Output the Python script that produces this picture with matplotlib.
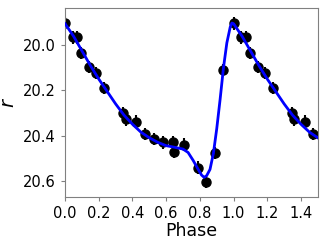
import numpy as np
import matplotlib
matplotlib.use("Agg")
import matplotlib.pyplot as plt

# observed points (phase, r mag, error)
phase = [0.000, 0.046, 0.073, 0.095, 0.144, 0.184, 0.233, 0.345, 0.360, 0.421,
         0.472, 0.530, 0.583, 0.642, 0.646, 0.704, 0.789, 0.838, 0.890, 0.939]
mag = [19.904, 19.966, 19.966, 20.034, 20.096, 20.123, 20.190, 20.300, 20.328, 20.338,
       20.394, 20.415, 20.430, 20.430, 20.472, 20.440, 20.542, 20.605, 20.478, 20.110]
err = [0.028] * len(phase)

# model curve
model_phase = [0.00, 0.05, 0.10, 0.15, 0.20, 0.25, 0.30, 0.35, 0.40, 0.45,
               0.50, 0.55, 0.60, 0.65, 0.70, 0.73, 0.76, 0.79, 0.81, 0.825,
               0.84, 0.86, 0.88, 0.90, 0.92, 0.94, 0.96, 0.98, 0.99, 1.00]
model_mag = [19.905, 19.960, 20.025, 20.090, 20.150, 20.205, 20.260, 20.310, 20.350, 20.385,
             20.410, 20.430, 20.445, 20.452, 20.460, 20.475, 20.510, 20.550, 20.575, 20.585,
             20.578, 20.550, 20.480, 20.370, 20.240, 20.100, 19.990, 19.920, 19.902, 19.905]

# repeat the cycle up to phase 1.5
ph = np.array(phase)
mg = np.array(mag)
er = np.array(err)
sel = ph + 1 <= 1.5
ph_all = np.concatenate([ph, ph[sel] + 1])
mg_all = np.concatenate([mg, mg[sel]])
er_all = np.concatenate([er, er[sel]])

mp = np.array(model_phase)
mm = np.array(model_mag)
msel = (mp > 0) & (mp + 1 <= 1.5)
mp_all = np.concatenate([mp, mp[msel] + 1])
mm_all = np.concatenate([mm, mm[msel]])

fig = plt.figure(figsize=(3.27, 2.45), dpi=100)
ax = fig.add_axes([0.199, 0.196, 0.773, 0.770])

ax.errorbar(ph_all, mg_all, yerr=er_all, fmt="o", color="black", ms=6.5,
            elinewidth=1.5, capsize=0, zorder=2)
ax.plot(mp_all, mm_all, color="blue", lw=2, zorder=3)

ax.set_xlim(0, 1.5)
ax.set_ylim(20.672, 19.837)
ax.set_xticks([0.0, 0.2, 0.4, 0.6, 0.8, 1.0, 1.2, 1.4])
ax.set_yticks([20.0, 20.2, 20.4, 20.6])
ax.set_xlabel("Phase", fontsize=12.5, labelpad=1)
ax.set_ylabel("$r$", fontsize=14)
ax.tick_params(labelsize=10.5, length=3, color="gray")
for s in ax.spines.values():
    s.set_color("gray")

fig.savefig("out.png", dpi=100)
